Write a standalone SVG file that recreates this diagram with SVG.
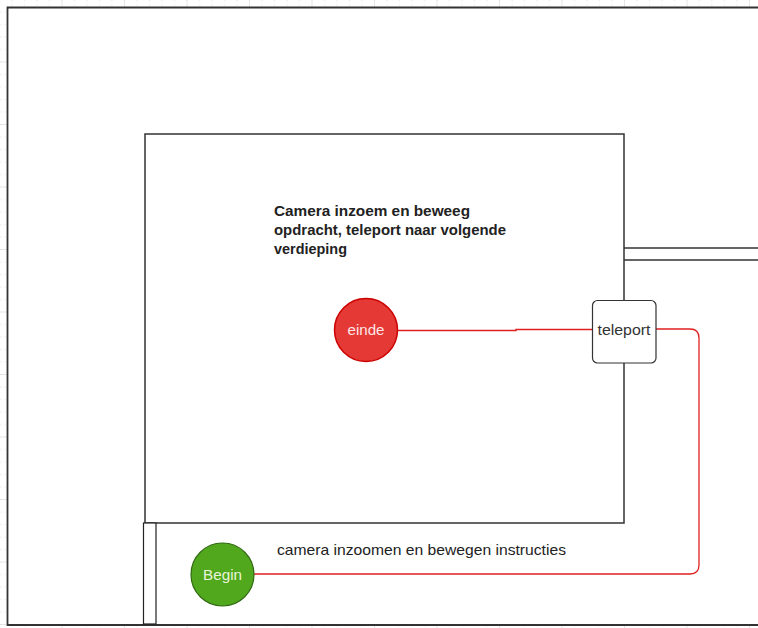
<svg xmlns="http://www.w3.org/2000/svg" width="758" height="628" viewBox="0 0 758 628">
  <style>
    .wall { fill: none; stroke: #333; stroke-width: 1.5; }
    .thin { fill: #fff; stroke: #222; stroke-width: 1.2; }
    .flow { fill: none; stroke: #e02020; stroke-width: 1.3; }
    .label { font-family: "Liberation Sans", Arial, sans-serif; font-size: 15px; fill: #222; }
    .title { font-family: "Liberation Sans", Arial, sans-serif; font-size: 15px; font-weight: bold; fill: #222; }
    .node-text { font-family: "Liberation Sans", Arial, sans-serif; font-size: 14px; text-anchor: middle; dominant-baseline: central; }
  </style>
  <defs>
    <pattern id="minor" width="12.5" height="12.5" patternUnits="userSpaceOnUse">
      <path d="M12.5 0 V12.5 M0 12.5 H12.5" fill="none" stroke="#dcdcdc" stroke-width="1" stroke-dasharray="2 2"/>
    </pattern>
    <pattern id="major" width="62.5" height="62.5" patternUnits="userSpaceOnUse">
      <rect width="62.5" height="62.5" fill="url(#minor)"/>
      <path d="M62.5 0 V62.5 M0 62.5 H62.5" fill="none" stroke="#d4d4d4" stroke-width="1"/>
    </pattern>
  </defs>

  <!-- canvas grid -->
  <rect width="758" height="628" fill="#fff"/>
  <rect width="758" height="628" fill="url(#major)"/>

  <!-- floor plan walls -->
  <g id="outer-room">
    <path d="M760 7.5 H7.5 V625 H760 Z" fill="#fff" stroke="#333" stroke-width="1.8"/>
  </g>
  <g id="inner-room">
    <rect x="145" y="134" width="479" height="389" class="wall"/>
  </g>
  <g id="corridor">
    <path d="M624 248 H760 M624 260 H760" class="wall"/>
  </g>
  <g id="door">
    <rect x="143.5" y="523" width="12.5" height="101" class="thin"/>
  </g>

  <!-- connectors -->
  <g id="connectors">
    <path d="M398 330.5 H516 V329.5 H592" class="flow"/>
    <path d="M656 329 H690 Q699 329 699 338 V565 Q699 574 690 574 H254" class="flow"/>
  </g>

  <!-- labels -->
  <g id="room-label">
    <text class="title" x="274" y="216" textLength="196" lengthAdjust="spacingAndGlyphs">Camera inzoem en beweeg</text>
    <text class="title" x="274" y="235" textLength="232" lengthAdjust="spacingAndGlyphs">opdracht, teleport naar volgende</text>
    <text class="title" x="274" y="254" textLength="73" lengthAdjust="spacingAndGlyphs">verdieping</text>
  </g>
  <g id="start-label">
    <text class="label" x="277" y="555" textLength="289" lengthAdjust="spacingAndGlyphs">camera inzoomen en bewegen instructies</text>
  </g>

  <!-- nodes -->
  <g id="einde">
    <circle cx="366" cy="330" r="31.5" fill="#e53935" stroke="#cc0000" stroke-width="1.5"/>
    <text class="node-text" x="366" y="330" fill="#fde5e5" textLength="37" lengthAdjust="spacingAndGlyphs">einde</text>
  </g>
  <g id="teleport">
    <rect x="592.5" y="300.5" width="63.5" height="62.5" rx="5" fill="#fff" stroke="#333" stroke-width="1.2"/>
    <text class="node-text" x="624" y="330" fill="#333" textLength="53" lengthAdjust="spacingAndGlyphs">teleport</text>
  </g>
  <g id="begin">
    <circle cx="222.5" cy="574.5" r="31.5" fill="#52a81d" stroke="#2f6a12" stroke-width="1.2"/>
    <text class="node-text" x="222.5" y="574.5" fill="#e8f5dc" textLength="39" lengthAdjust="spacingAndGlyphs">Begin</text>
  </g>
</svg>
